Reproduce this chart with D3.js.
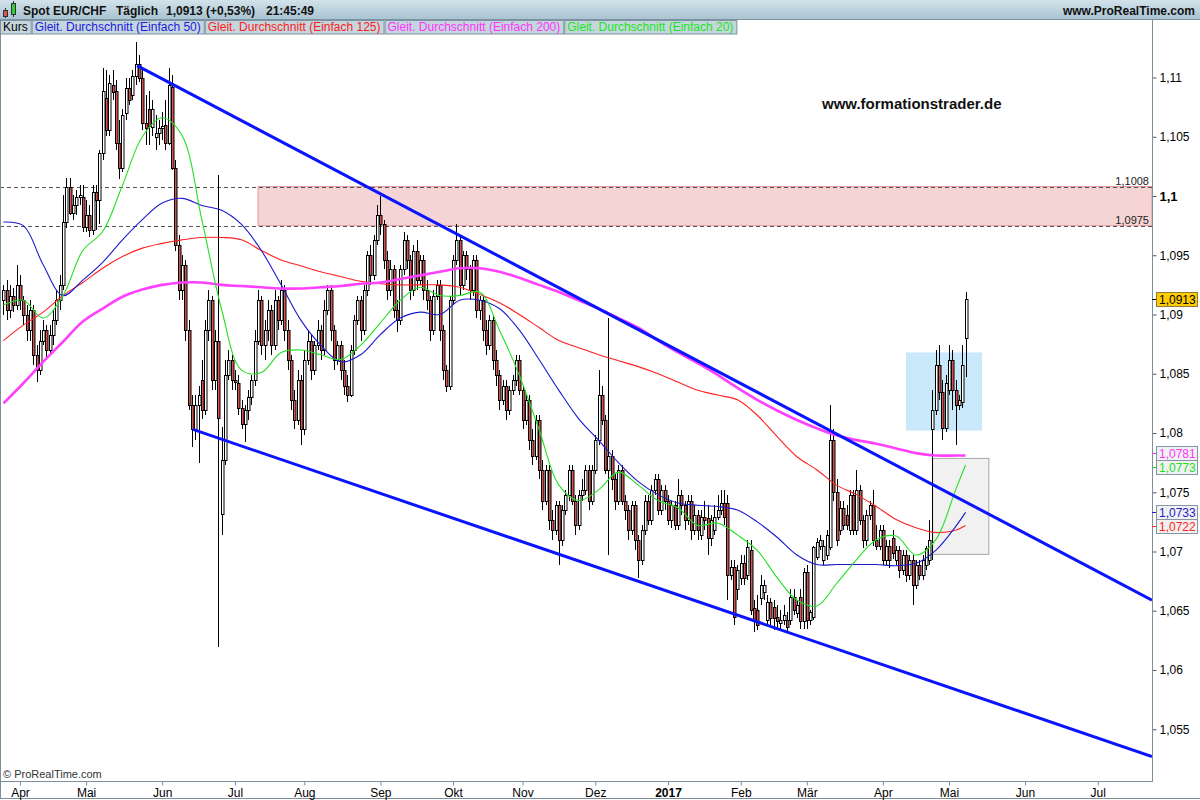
<!DOCTYPE html>
<html><head><meta charset="utf-8">
<script src="https://cdn.jsdelivr.net/npm/d3@7"></script>
<style>body{margin:0;background:#fff;} svg{display:block;font-family:"Liberation Sans",Arial,sans-serif;}</style>
</head><body><svg id="c" width="1200" height="800"></svg>
<script>
// ---------------- DATA ----------------
const startIndex = -5; // first candle is 5 trading days before 1 Apr 2016
const opens = [1.0912,1.0921,1.0904,1.0916,1.0908,
1.0925,1.0912,1.0900,1.0887,1.0904,1.0866,1.0853,1.0878,1.0887,1.0870,
1.0883,1.0895,1.0912,1.0925,1.0978,1.1008,1.0986,1.0992,1.0999,1.0999,
1.0974,1.0984,1.0971,1.1003,1.0997,1.1036,1.1083,1.1056,1.1094,1.1089,
1.1045,1.1024,1.1070,1.1091,1.1085,1.1101,1.1111,1.1100,1.1062,1.1073,
1.1058,1.1050,1.1053,1.1057,1.1060,1.1045,1.1092,1.1024,1.0959,1.0921,
1.0942,1.0887,1.0824,1.0803,1.0824,1.0845,1.0819,1.0887,1.0912,1.0845,
1.0878,1.0732,1.0777,1.0849,1.0862,1.0845,1.0842,1.0821,1.0808,1.0819,
1.0830,1.0845,1.0878,1.0912,1.0874,1.0887,1.0904,1.0874,1.0912,1.0895,
1.0921,1.0887,1.0862,1.0828,1.0811,1.0845,1.0803,1.0862,1.0878,1.0853,
1.0874,1.0887,1.0870,1.0904,1.0921,1.0887,1.0862,1.0874,1.0853,1.0840,
1.0832,1.0870,1.0895,1.0912,1.0887,1.0921,1.0950,1.0933,1.0963,1.0984,
1.0976,1.0946,1.0921,1.0938,1.0904,1.0895,1.0938,1.0963,1.0946,1.0921,
1.0954,1.0929,1.0946,1.0921,1.0912,1.0887,1.0916,1.0925,1.0887,1.0853,
1.0840,1.0912,1.0946,1.0963,1.0925,1.0950,1.0938,1.0921,1.0946,1.0904,
1.0912,1.0887,1.0874,1.0895,1.0862,1.0849,1.0828,1.0840,1.0819,1.0836,
1.0845,1.0862,1.0836,1.0811,1.0828,1.0794,1.0781,1.0811,1.0769,1.0743,
1.0769,1.0727,1.0718,1.0739,1.0710,1.0735,1.0748,1.0769,1.0743,1.0722,
1.0748,1.0752,1.0769,1.0743,1.0769,1.0794,1.0832,1.0811,1.0769,1.0781,
1.0761,1.0743,1.0769,1.0743,1.0735,1.0718,1.0739,1.0710,1.0693,1.0718,
1.0743,1.0727,1.0752,1.0761,1.0735,1.0752,1.0743,1.0727,1.0739,1.0722,
1.0748,1.0739,1.0727,1.0743,1.0718,1.0731,1.0714,1.0729,1.0728,1.0711,
1.0718,1.0729,1.0735,1.0741,1.0741,1.0680,1.0687,1.0668,1.0678,1.0690,
1.0680,1.0701,1.0652,1.0651,1.0661,1.0666,1.0642,1.0657,1.0653,1.0645,
1.0640,1.0642,1.0642,1.0642,1.0662,1.0648,1.0662,1.0641,1.0683,1.0642,
1.0645,1.0695,1.0705,1.0693,1.0697,1.0704,1.0794,1.0750,1.0718,1.0737,
1.0731,1.0718,1.0748,1.0718,1.0752,1.0727,1.0710,1.0731,1.0739,1.0710,
1.0705,1.0718,1.0693,1.0705,1.0711,1.0693,1.0701,1.0684,1.0697,1.0680,
1.0693,1.0672,1.0689,1.0680,1.0689,1.0693,1.0803,1.0819,1.0857,1.0835,
1.0804,1.0836,1.0862,1.0836,1.0824,1.0826,1.0880];
const highs = [1.0925,1.0929,1.0925,1.0922,1.0942,
1.0933,1.0916,1.0908,1.0912,1.0908,1.0874,1.0887,1.0895,1.0891,1.0891,
1.0904,1.0921,1.0933,1.1001,1.1015,1.1015,1.1001,1.1005,1.1009,1.1009,
1.0997,1.0992,1.1009,1.1009,1.1039,1.1108,1.1106,1.1102,1.1106,1.1098,
1.1064,1.1073,1.1100,1.1100,1.1106,1.1130,1.1119,1.1106,1.1085,1.1089,
1.1081,1.1068,1.1064,1.1071,1.1081,1.1108,1.1102,1.1030,1.0967,1.0950,
1.0946,1.0895,1.0832,1.0832,1.0840,1.0862,1.0895,1.0921,1.0916,1.0887,
1.1018,1.0805,1.0862,1.0870,1.0866,1.0853,1.0849,1.0828,1.0824,1.0836,
1.0849,1.0887,1.0921,1.0916,1.0895,1.0912,1.0908,1.0921,1.0916,1.0929,
1.0925,1.0895,1.0866,1.0836,1.0853,1.0849,1.0870,1.0887,1.0883,1.0878,
1.0895,1.0891,1.0912,1.0925,1.0925,1.0891,1.0878,1.0878,1.0862,1.0849,
1.0874,1.0900,1.0916,1.0916,1.0925,1.0954,1.0959,1.0967,1.0992,1.1000,
1.0980,1.0954,1.0946,1.0942,1.0912,1.0942,1.0970,1.0967,1.0950,1.0959,
1.0963,1.0950,1.0950,1.0929,1.0916,1.0921,1.0929,1.0929,1.0891,1.0857,
1.0916,1.0950,1.0976,1.0967,1.0954,1.0954,1.0942,1.0950,1.0950,1.0916,
1.0916,1.0895,1.0900,1.0900,1.0870,1.0853,1.0845,1.0845,1.0840,1.0849,
1.0866,1.0866,1.0840,1.0832,1.0832,1.0803,1.0815,1.0815,1.0777,1.0773,
1.0773,1.0735,1.0743,1.0743,1.0739,1.0752,1.0773,1.0773,1.0748,1.0752,
1.0761,1.0773,1.0773,1.0773,1.0798,1.0853,1.0840,1.0815,1.0897,1.0786,
1.0765,1.0773,1.0773,1.0748,1.0739,1.0743,1.0743,1.0714,1.0722,1.0748,
1.0748,1.0756,1.0765,1.0765,1.0756,1.0756,1.0748,1.0743,1.0743,1.0761,
1.0752,1.0743,1.0748,1.0748,1.0739,1.0735,1.0735,1.0743,1.0739,1.0731,
1.0739,1.0748,1.0752,1.0752,1.0748,1.0693,1.0693,1.0689,1.0697,1.0697,
1.0710,1.0710,1.0659,1.0663,1.0680,1.0676,1.0663,1.0661,1.0659,1.0655,
1.0651,1.0655,1.0649,1.0668,1.0668,1.0659,1.0668,1.0686,1.0689,1.0651,
1.0705,1.0711,1.0714,1.0710,1.0718,1.0824,1.0803,1.0761,1.0743,1.0743,
1.0739,1.0752,1.0752,1.0769,1.0756,1.0731,1.0735,1.0743,1.0752,1.0722,
1.0722,1.0722,1.0710,1.0710,1.0718,1.0705,1.0705,1.0701,1.0701,1.0697,
1.0697,1.0693,1.0693,1.0697,1.0705,1.0727,1.0836,1.0870,1.0874,1.0845,
1.0849,1.0874,1.0870,1.0845,1.0832,1.0874,1.0919];
const lows = [1.0900,1.0895,1.0897,1.0902,1.0904,
1.0904,1.0891,1.0878,1.0878,1.0857,1.0843,1.0849,1.0874,1.0862,1.0866,
1.0874,1.0891,1.0904,1.0921,1.0973,1.0984,1.0980,1.0984,1.0992,1.0970,
1.0970,1.0965,1.0967,1.0971,1.0976,1.1030,1.1051,1.1051,1.1081,1.1039,
1.1014,1.1020,1.1064,1.1077,1.1081,1.1094,1.1096,1.1056,1.1043,1.1043,
1.1051,1.1039,1.1043,1.1047,1.1039,1.1043,1.1022,1.0954,1.0912,1.0912,
1.0878,1.0819,1.0788,1.0794,1.0775,1.0812,1.0815,1.0878,1.0836,1.0836,
1.0619,1.0714,1.0773,1.0845,1.0836,1.0836,1.0815,1.0803,1.0792,1.0811,
1.0824,1.0840,1.0874,1.0866,1.0862,1.0878,1.0866,1.0870,1.0887,1.0891,
1.0878,1.0853,1.0819,1.0803,1.0807,1.0790,1.0798,1.0857,1.0845,1.0849,
1.0870,1.0862,1.0866,1.0900,1.0878,1.0853,1.0857,1.0845,1.0832,1.0826,
1.0830,1.0866,1.0891,1.0878,1.0883,1.0916,1.0925,1.0929,1.0959,1.0967,
1.0938,1.0912,1.0916,1.0897,1.0885,1.0891,1.0933,1.0938,1.0912,1.0916,
1.0921,1.0925,1.0912,1.0904,1.0878,1.0883,1.0912,1.0878,1.0845,1.0835,
1.0836,1.0908,1.0942,1.0916,1.0921,1.0929,1.0912,1.0916,1.0897,1.0895,
1.0878,1.0866,1.0870,1.0853,1.0840,1.0819,1.0824,1.0811,1.0815,1.0832,
1.0840,1.0832,1.0803,1.0807,1.0786,1.0773,1.0777,1.0761,1.0735,1.0739,
1.0718,1.0710,1.0714,1.0689,1.0705,1.0731,1.0743,1.0739,1.0714,1.0718,
1.0743,1.0748,1.0735,1.0739,1.0765,1.0790,1.0807,1.0765,1.0697,1.0752,
1.0735,1.0739,1.0739,1.0727,1.0710,1.0714,1.0701,1.0678,1.0689,1.0714,
1.0722,1.0722,1.0748,1.0731,1.0731,1.0735,1.0722,1.0720,1.0718,1.0718,
1.0731,1.0718,1.0722,1.0710,1.0714,1.0710,1.0710,1.0718,1.0697,1.0705,
1.0714,1.0727,1.0731,1.0722,1.0659,1.0676,1.0638,1.0659,1.0672,1.0672,
1.0676,1.0646,1.0632,1.0634,1.0655,1.0659,1.0638,1.0638,1.0634,1.0635,
1.0635,1.0638,1.0632,1.0638,1.0646,1.0644,1.0635,1.0635,1.0635,1.0638,
1.0642,1.0693,1.0701,1.0689,1.0693,1.0701,1.0743,1.0705,1.0714,1.0718,
1.0718,1.0714,1.0714,1.0714,1.0722,1.0703,1.0705,1.0727,1.0705,1.0701,
1.0701,1.0689,1.0689,1.0686,1.0694,1.0689,1.0678,1.0680,1.0674,1.0676,
1.0655,1.0668,1.0676,1.0676,1.0684,1.0689,1.0693,1.0815,1.0828,1.0794,
1.0801,1.0832,1.0819,1.0790,1.0819,1.0821,1.0847];
const closes = [1.0921,1.0904,1.0916,1.0908,1.0925,
1.0912,1.0900,1.0887,1.0904,1.0866,1.0853,1.0878,1.0887,1.0870,1.0883,
1.0895,1.0912,1.0925,1.0978,1.1008,1.0986,1.0992,1.0999,1.1001,1.0974,
1.0984,1.0971,1.1003,1.0997,1.1036,1.1089,1.1056,1.1095,1.1088,1.1045,
1.1024,1.1068,1.1091,1.1081,1.1101,1.1111,1.1100,1.1062,1.1057,1.1059,
1.1073,1.1053,1.1057,1.1059,1.1045,1.1094,1.1024,1.0959,1.0921,1.0942,
1.0887,1.0824,1.0803,1.0824,1.0832,1.0819,1.0887,1.0912,1.0845,1.0878,
1.0813,1.0777,1.0849,1.0862,1.0845,1.0843,1.0821,1.0808,1.0819,1.0830,
1.0845,1.0878,1.0912,1.0874,1.0887,1.0904,1.0874,1.0912,1.0895,1.0921,
1.0887,1.0862,1.0828,1.0811,1.0845,1.0803,1.0862,1.0878,1.0853,1.0874,
1.0887,1.0870,1.0904,1.0921,1.0887,1.0862,1.0874,1.0853,1.0840,1.0832,
1.0870,1.0895,1.0912,1.0887,1.0921,1.0950,1.0933,1.0963,1.0984,1.0976,
1.0946,1.0921,1.0938,1.0904,1.0895,1.0938,1.0963,1.0946,1.0921,1.0954,
1.0929,1.0946,1.0921,1.0912,1.0887,1.0916,1.0925,1.0887,1.0853,1.0840,
1.0912,1.0946,1.0963,1.0925,1.0950,1.0938,1.0921,1.0946,1.0904,1.0912,
1.0887,1.0874,1.0895,1.0862,1.0849,1.0828,1.0840,1.0819,1.0836,1.0845,
1.0862,1.0836,1.0811,1.0828,1.0794,1.0781,1.0811,1.0769,1.0743,1.0769,
1.0727,1.0718,1.0739,1.0710,1.0735,1.0748,1.0769,1.0743,1.0722,1.0748,
1.0752,1.0769,1.0743,1.0769,1.0794,1.0832,1.0811,1.0769,1.0781,1.0761,
1.0743,1.0769,1.0743,1.0735,1.0718,1.0739,1.0710,1.0693,1.0718,1.0743,
1.0727,1.0752,1.0761,1.0735,1.0752,1.0743,1.0727,1.0739,1.0722,1.0748,
1.0739,1.0727,1.0743,1.0718,1.0731,1.0718,1.0729,1.0727,1.0711,1.0727,
1.0729,1.0735,1.0741,1.0729,1.0680,1.0687,1.0645,1.0684,1.0690,1.0678,
1.0704,1.0651,1.0641,1.0638,1.0672,1.0672,1.0657,1.0644,1.0644,1.0641,
1.0642,1.0646,1.0636,1.0662,1.0651,1.0655,1.0641,1.0683,1.0642,1.0649,
1.0704,1.0708,1.0710,1.0705,1.0714,1.0794,1.0750,1.0710,1.0737,1.0722,
1.0722,1.0748,1.0718,1.0752,1.0727,1.0710,1.0731,1.0739,1.0710,1.0705,
1.0718,1.0693,1.0705,1.0693,1.0699,1.0701,1.0684,1.0697,1.0680,1.0693,
1.0672,1.0689,1.0680,1.0693,1.0703,1.0710,1.0819,1.0857,1.0835,1.0804,
1.0842,1.0862,1.0836,1.0824,1.0828,1.0857,1.0913];

// moving averages at these bar indices
const maIdx = [-5,1,7,13,19,25,31,37,43,49,55,61,67,73,79,85,91,97,103,109,115,121,127,133,139,145,151,157,163,169,175,181,187,193,199,205,211,217,223,229,235,241,247,253,259,265,271,277,283,286];
const ma20 = [1.0908,1.0912,1.0897,1.0916,1.0954,1.0970,1.1009,1.1050,1.1066,1.1051,1.0980,1.0904,1.0853,1.0851,1.0868,1.0870,1.0866,1.0862,1.0874,1.0893,1.0912,1.0923,1.0916,1.0916,1.0919,1.0887,1.0849,1.0803,1.0756,1.0743,1.0752,1.0767,1.0756,1.0743,1.0737,1.0722,1.0724,1.0714,1.0701,1.0678,1.0659,1.0654,1.0673,1.0693,1.0710,1.0713,1.0697,1.0710,1.0752,1.0773];
const ma50 = [1.0978,1.0975,1.0942,1.0916,1.0929,1.0944,1.0963,1.0980,1.0994,1.0998,1.0992,1.0988,1.0976,1.0954,1.0925,1.0895,1.0874,1.0860,1.0866,1.0883,1.0897,1.0902,1.0900,1.0912,1.0912,1.0905,1.0887,1.0862,1.0836,1.0812,1.0794,1.0775,1.0759,1.0748,1.0741,1.0739,1.0738,1.0735,1.0725,1.0712,1.0697,1.0689,1.0689,1.0689,1.0689,1.0688,1.0690,1.0701,1.0721,1.0733];
const ma125 = [1.0878,1.0891,1.0902,1.0916,1.0927,1.0939,1.0949,1.0956,1.0960,1.0963,1.0965,1.0965,1.0963,1.0954,1.0946,1.0941,1.0936,1.0932,1.0928,1.0926,1.0925,1.0925,1.0925,1.0923,1.0917,1.0910,1.0900,1.0889,1.0878,1.0872,1.0866,1.0861,1.0856,1.0850,1.0843,1.0836,1.0832,1.0828,1.0815,1.0797,1.0780,1.0769,1.0756,1.0748,1.0738,1.0727,1.0720,1.0716,1.0718,1.0722];
const ma200 = [1.0825,1.0842,1.0860,1.0877,1.0894,1.0905,1.0915,1.0921,1.0925,1.0927,1.0927,1.0925,1.0924,1.0923,1.0922,1.0922,1.0923,1.0924,1.0926,1.0927,1.0930,1.0933,1.0936,1.0939,1.0939,1.0936,1.0931,1.0925,1.0919,1.0912,1.0905,1.0897,1.0889,1.0878,1.0868,1.0859,1.0849,1.0838,1.0828,1.0819,1.0811,1.0804,1.0798,1.0794,1.0791,1.0787,1.0783,1.0781,1.0781,1.0781];

const monthIdx = [0,20,43,65,86,109,131,152,174,196,218,238,261,281,304,326];
const monthLabels = ["Apr","Mai","Jun","Jul","Aug","Sep","Okt","Nov","Dez","2017","Feb","Mär","Apr","Mai","Jun","Jul"];
const priceTicks = [1.055,1.06,1.065,1.07,1.075,1.08,1.085,1.09,1.095,1.1,1.105,1.11];

const trendUpper = [[35.4,1.1110],[342.4,1.0659]];
const trendLower = [[52.3,1.0803],[342.4,1.0527]];
const zoneLevels = [1.1008,1.0975];
const zoneStart = 72;
const boxBlue = [[268,1.0868],[291,1.0802]];
const boxGray = [[275.9,1.0779],[292.9,1.0698]];

const lastValues = [1.0913,1.0781,1.0773,1.0733,1.0722];
const lastColors = ["#000000","#ff33ff","#22dd22","#1a1acc","#ff2020"];

const legendItems = ["Kurs","Gleit. Durchschnitt (Einfach 50)","Gleit. Durchschnitt (Einfach 125)","Gleit. Durchschnitt (Einfach 200)","Gleit. Durchschnitt (Einfach 20)"];
const legendColors = ["#000000","#1a1ae0","#ff1a1a","#ff33ff","#19e619"];

// ---------------- CHART ----------------
const svg = d3.select('#c');
const W = 1200, H = 800, plotR = 1152, plotT = 35, plotB = 781;
const x = d3.scaleLinear().domain([0,281]).range([20,949]);
const y = d3.scaleLinear().domain([1.06,1.11]).range([670,77.5]);
const fmt = v => String(+v.toFixed(4)).replace('.', ',');

const defs = svg.append('defs');
const gr = defs.append('linearGradient').attr('id','hdr').attr('x1',0).attr('y1',0).attr('x2',0).attr('y2',1);
gr.append('stop').attr('offset','0%').attr('stop-color','#d2e2ea');
gr.append('stop').attr('offset','100%').attr('stop-color','#a7c2d0');
defs.append('clipPath').attr('id','plot').append('rect').attr('x',1).attr('y',plotT).attr('width',plotR-1).attr('height',plotB-plotT);

svg.append('rect').attr('width',W).attr('height',H).attr('fill','#fff');

// header bar
svg.append('rect').attr('x',0).attr('y',0).attr('width',W).attr('height',20).attr('fill','url(#hdr)');
svg.append('line').attr('x1',0).attr('x2',W).attr('y1',19.5).attr('y2',19.5).attr('stroke','#7b93a2');
// icon
const ic = svg.append('g');
ic.append('line').attr('x1',5.5).attr('x2',5.5).attr('y1',8).attr('y2',18).attr('stroke','#333');
ic.append('rect').attr('x',3.5).attr('y',10.5).attr('width',4).attr('height',6).attr('fill','#e05050').attr('stroke','#333');
ic.append('line').attr('x1',13.5).attr('x2',13.5).attr('y1',1).attr('y2',17).attr('stroke','#333');
ic.append('rect').attr('x',11.5).attr('y',3.5).attr('width',4).attr('height',11).attr('fill','#33cc33').attr('stroke','#333');
const hdrTexts = [["Spot EUR/CHF",23],["Täglich",116],["1,0913 (+0,53%)",166],["21:45:49",266]];
svg.selectAll('text.hdr').data(hdrTexts).join('text').attr('class','hdr')
  .attr('x',d=>d[1]).attr('y',15).attr('font-size',12).attr('font-weight','bold').attr('fill','#111').text(d=>d[0]);
svg.append('text').attr('x',1195).attr('y',15).attr('text-anchor','end').attr('font-size',12).attr('font-weight','bold').attr('fill','#111').text('www.ProRealTime.com');

// legend row
let lx = 0;
legendItems.forEach((t,k)=>{
  const g = svg.append('g');
  const r = g.append('rect').attr('y',20.5).attr('height',13.5).attr('fill','#c5d6de').attr('stroke','#7d929f');
  const tx = g.append('text').attr('x',lx+3).attr('y',31).attr('font-size',12).attr('fill',legendColors[k]).text(t);
  const w = tx.node().getComputedTextLength()+6;
  r.attr('x',lx+0.5).attr('width',w);
  lx += w+1;
});

// plot
const plot = svg.append('g').attr('clip-path','url(#plot)');

// zones
plot.append('rect').attr('x',x(zoneStart)).attr('y',y(zoneLevels[0])).attr('width',plotR-x(zoneStart))
  .attr('height',y(zoneLevels[1])-y(zoneLevels[0])).attr('fill','#f4d4d4').attr('stroke','#e39a9a');
plot.append('rect').attr('x',x(boxBlue[0][0])).attr('y',y(boxBlue[0][1])).attr('width',x(boxBlue[1][0])-x(boxBlue[0][0]))
  .attr('height',y(boxBlue[1][1])-y(boxBlue[0][1])).attr('fill','#c9e9fb');
plot.append('rect').attr('x',x(boxGray[0][0])+0.5).attr('y',y(boxGray[0][1])+0.5).attr('width',x(boxGray[1][0])-x(boxGray[0][0]))
  .attr('height',y(boxGray[1][1])-y(boxGray[0][1])).attr('fill','#f1f1f1').attr('stroke','#a8a8a8');
zoneLevels.forEach(v=>{
  const yy = Math.round(y(v))+0.5;
  plot.append('line').attr('x1',0).attr('x2',plotR).attr('y1',yy).attr('y2',yy).attr('stroke','#555').attr('stroke-dasharray','4,3');
  plot.append('text').attr('x',1149).attr('y',yy-3).attr('text-anchor','end').attr('font-size',11).attr('fill','#222').text(fmt(v));
});

// candles
const candles = opens.map((o,j)=>({i:j+startIndex,o,h:highs[j],l:lows[j],c:closes[j]}));
const cg = plot.append('g');
candles.forEach(d=>{
  const cx = Math.round(x(d.i));
  cg.append('line').attr('x1',cx+0.5).attr('x2',cx+0.5).attr('y1',Math.round(y(d.h))).attr('y2',Math.round(y(d.l))).attr('stroke','#000');
  const top = Math.round(y(Math.max(d.o,d.c))), bot = Math.round(y(Math.min(d.o,d.c)));
  cg.append('rect').attr('x',cx-0.5).attr('y',top+0.5).attr('width',2.5).attr('height',Math.max(1,bot-top))
    .attr('fill',d.c>=d.o?'#ffffff':'#d4534c').attr('stroke','#000').attr('stroke-width',1);
});

// moving averages
const line = d3.line().x(d=>x(d[0])).y(d=>y(d[1])).curve(d3.curveCatmullRom.alpha(0.5));
const maSeries = [[ma125,'#ff2020',1.1],[ma50,'#1a1acc',1.1],[ma200,'#ff40ff',2.6],[ma20,'#22e022',1.1]];
maSeries.forEach(([arr,col,w])=>{
  plot.append('path').attr('d',line(maIdx.map((k,j)=>[k,arr[j]]))).attr('fill','none').attr('stroke',col).attr('stroke-width',w);
});

// trend lines
[trendUpper,trendLower].forEach(t=>{
  plot.append('line').attr('x1',x(t[0][0])).attr('y1',y(t[0][1])).attr('x2',x(t[1][0])).attr('y2',y(t[1][1]))
    .attr('stroke','#0a14ff').attr('stroke-width',3);
});

// watermark
svg.append('text').attr('x',822).attr('y',109).attr('font-size',15).attr('font-weight','bold').attr('fill','#111').text('www.formationstrader.de');
svg.append('text').attr('x',3).attr('y',778).attr('font-size',11).attr('fill','#333').text('© ProRealTime.com');

// frame
svg.append('line').attr('x1',0.5).attr('x2',0.5).attr('y1',20).attr('y2',799).attr('stroke','#7b8f9c');
svg.append('line').attr('x1',0).attr('x2',plotR).attr('y1',plotB+0.5).attr('y2',plotB+0.5).attr('stroke','#7b8f9c');
svg.append('line').attr('x1',0).attr('x2',W).attr('y1',798.5).attr('y2',798.5).attr('stroke','#7b8f9c');

// right axis
const ya = svg.append('g').attr('transform',`translate(${plotR+0.5},0)`)
  .call(d3.axisRight(y).tickValues(priceTicks).tickSize(4).tickFormat(fmt));
ya.select('.domain').remove();
ya.selectAll('line').attr('stroke','#556');
ya.selectAll('text').attr('font-size',12).attr('fill','#000').attr('font-family','"Liberation Sans",Arial,sans-serif');
ya.selectAll('.tick').filter(d=>d===1.1).select('text').attr('font-weight','bold').attr('font-size',13);
svg.append('line').attr('x1',plotR+0.5).attr('x2',plotR+0.5).attr('y1',20).attr('y2',plotB+1).attr('stroke','#7b8f9c');

// bottom axis
const xa = svg.append('g').attr('transform',`translate(0,${plotB+0.5})`)
  .call(d3.axisBottom(x).tickValues(monthIdx).tickSize(4).tickFormat((d,k)=>monthLabels[k]));
xa.select('.domain').remove();
xa.selectAll('line').attr('stroke','#7b8f9c');
xa.selectAll('text').attr('font-size',12).attr('fill','#000').attr('font-family','"Liberation Sans",Arial,sans-serif')
  .attr('font-weight',(d,k)=>monthLabels[k]==='2017'?'bold':'normal');

// last value labels (stacked to avoid overlap)
const lab = lastValues.map((v,k)=>({v,k,y:y(v)})).sort((a,b)=>a.y-b.y);
for(let it=0;it<20;it++){
  for(let j=1;j<lab.length;j++){
    const gap = lab[j].y-lab[j-1].y;
    if(gap<14){const s=(14-gap)/2; lab[j-1].y-=s; lab[j].y+=s;}
  }
}
lab.forEach(d=>{
  const first = d.k===0;
  svg.append('line').attr('x1',plotR).attr('x2',plotR+5).attr('y1',Math.round(d.y)+0.5).attr('y2',Math.round(d.y)+0.5).attr('stroke',lastColors[d.k]);
  svg.append('rect').attr('x',1156.5).attr('y',Math.round(d.y)-6.5).attr('width',41).attr('height',14)
    .attr('fill',first?'#ffcc00':'#f2f2f2').attr('stroke',first?'#8a7a40':'#8596a2');
  svg.append('text').attr('x',1159).attr('y',Math.round(d.y)+5).attr('font-size',12).attr('fill',lastColors[d.k]).text(fmt(d.v));
});
</script></body></html>
